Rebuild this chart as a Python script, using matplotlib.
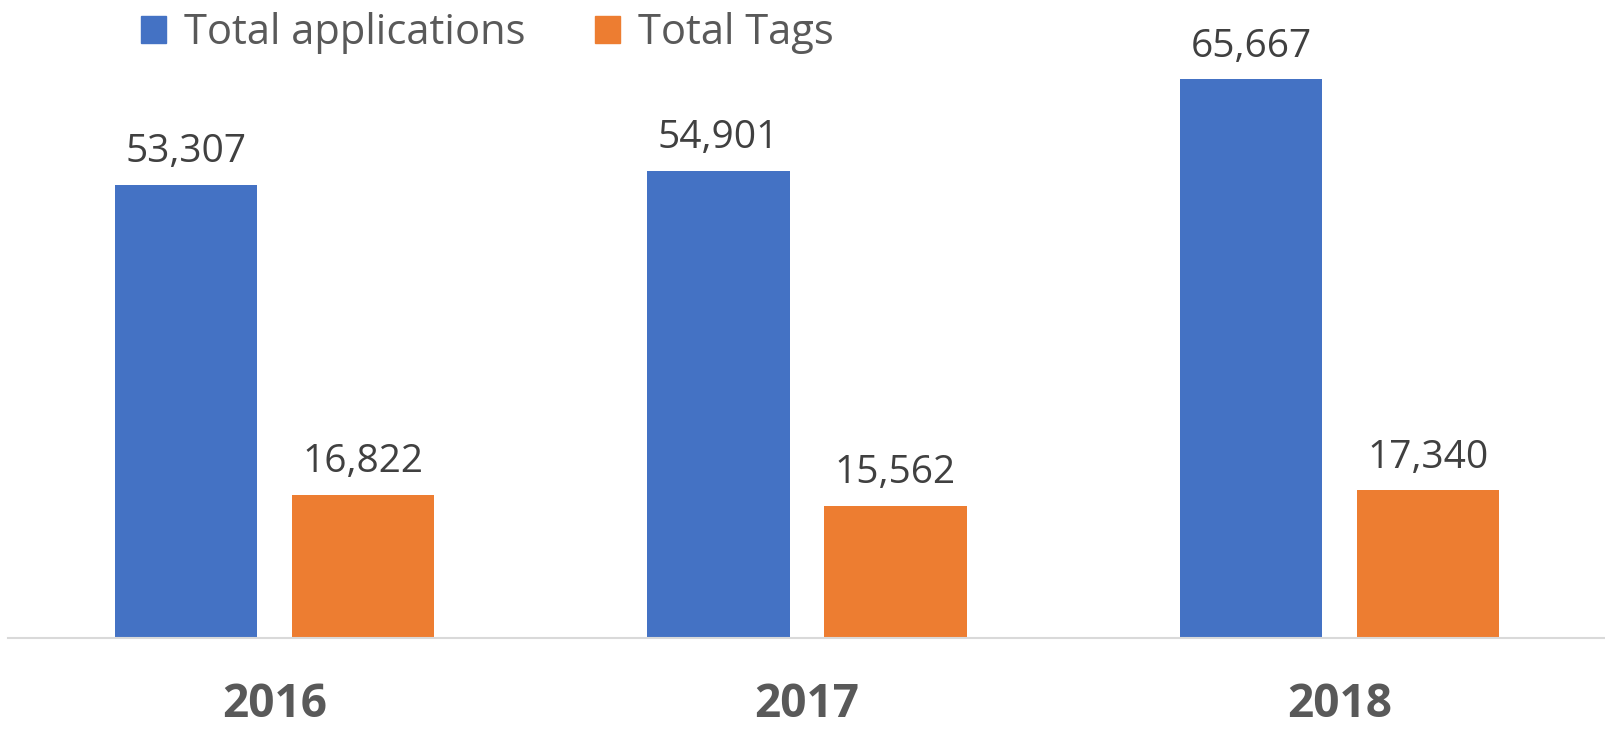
import matplotlib
matplotlib.use("Agg")
import matplotlib.pyplot as plt
from matplotlib.patches import Patch
import numpy as np

years = ["2016", "2017", "2018"]
total_applications = [53307, 54901, 65667]
total_tags = [16822, 15562, 17340]
series_names = ["Total applications", "Total Tags"]

BLUE = "#4472C4"
ORANGE = "#ED7D31"
plt.rcParams['font.family'] = ['Open Sans', 'DejaVu Sans']

fig = plt.figure(figsize=(16.06, 7.29), dpi=100)
ax = fig.add_axes([8/1606, (729-638)/729, 1598/1606, 638/729])

x = np.arange(len(years))
w = 0.267
off = 0.166
b1 = ax.bar(x - off, total_applications, w, color=BLUE)
b2 = ax.bar(x + off, total_tags, w, color=ORANGE)

for bars, vals in ((b1, total_applications), (b2, total_tags)):
    for r, v in zip(bars, vals):
        ax.annotate(f"{v:,}", (r.get_x() + r.get_width()/2, r.get_height()),
                    xytext=(0, 10), textcoords="offset points", ha="center", va="bottom",
                    fontsize=28, color="#404040")

ax.set_xlim(-0.5, 2.5)
ax.set_ylim(0, 75000)
ax.set_yticks([])
ax.set_xticks(x)
ax.set_xticklabels(years, fontsize=33, fontweight="bold", color="#595959")
ax.tick_params(axis="x", length=0, pad=31)
for s in ("top", "right", "left"):
    ax.spines[s].set_visible(False)
ax.spines["bottom"].set_color("#D9D9D9")
ax.spines["bottom"].set_linewidth(1.5)
ax.patch.set_alpha(0)

handles = [Patch(color=BLUE), Patch(color=ORANGE)]
fig.legend(handles, series_names, loc="upper left", bbox_to_anchor=(103/1606, 1.035),
           ncol=2, frameon=False, fontsize=30, labelcolor="#595959",
           handlelength=0.6, handleheight=0.6, handletextpad=0.45, columnspacing=1.65)

fig.savefig("out.png", dpi=100)
